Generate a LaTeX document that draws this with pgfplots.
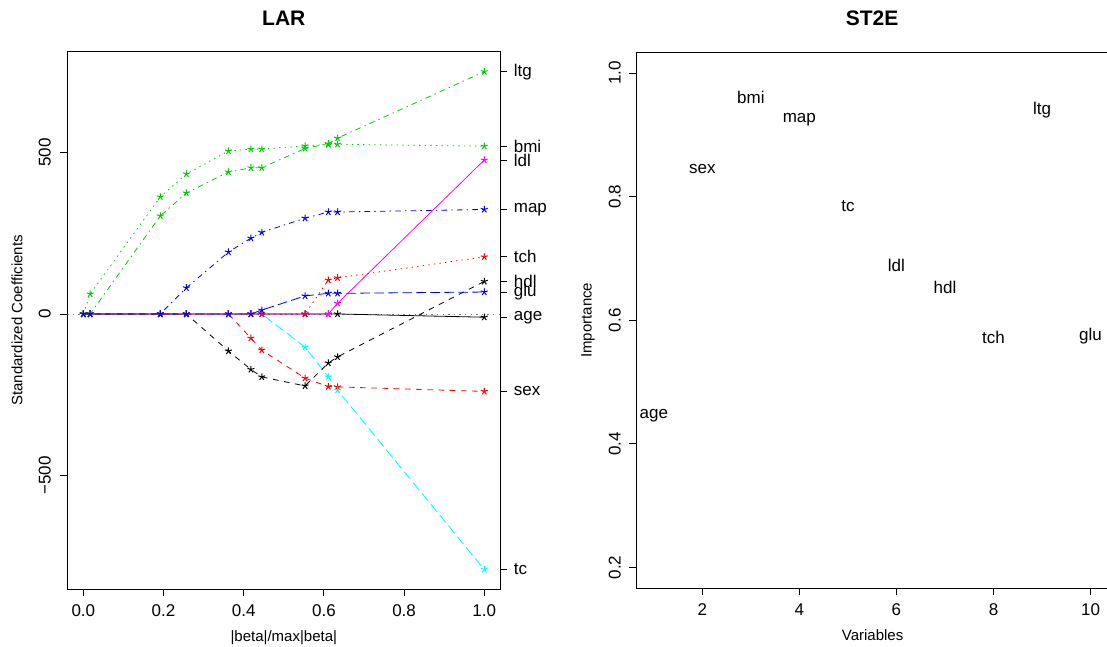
\documentclass[border=0pt]{standalone}
\usepackage{fontspec}
\setmainfont{Liberation Sans}
\usepackage{pgfplots}
\usepackage{pgfplotstable}
\pgfplotsset{compat=1.18}

\definecolor{rgreen}{HTML}{00CD00}
\definecolor{rred}{HTML}{FF0000}
\definecolor{rblue}{HTML}{0000FF}
\definecolor{rcyan}{HTML}{00FFFF}
\definecolor{rmag}{HTML}{FF00FF}

\newcommand\ticksize{\fontsize{17}{17}\selectfont}
\newcommand\labsize{\fontsize{15}{15}\selectfont}

% LAR path: fraction of max |beta| and standardized coefficients per step
\pgfplotstableread{
s     age  sex  bmi  map  tc    ldl  hdl   tch  ltg  glu
0     0    0    0    0    0     0    0     0    0    0
0.017 0    0    62   0    0     0    0     0    0    0
0.192 0    0    363  0    0     0    0     0    304  0
0.257 0    0    434  81   0     0    0     0    375  0
0.362 0    0    505  192  0     0    -115  0    440  0
0.418 0    -75  511  235  0     0    -172  0    453  0
0.445 0    -112 511  253  0     0    -195  0    453  12
0.553 0    -199 521  297  -103  0    -223  0    513  56
0.611 0    -225 525  316  -195  0    -152  105  528  64
0.634 0    -226 526  316  -236  33   -133  112  545  64
1.000 -10  -240 520  324  -792  477  101   177  751  68
}\lars

% ST2E importance
\pgfplotstableread{
x  y     name
1  0.445 age
2  0.844 sex
3  0.961 bmi
4  0.924 map
5  0.784 tc
6  0.689 ldl
7  0.653 hdl
8  0.572 tch
9  0.940 ltg
10 0.574 glu
}\imp

\tikzset{
  rdash/.style={dash pattern=on 5.6pt off 5.6pt},
  rdot/.style={dash pattern=on 1.4pt off 4.2pt},
  rdotdash/.style={dash pattern=on 1.4pt off 4.2pt on 5.6pt off 4.2pt},
  rlong/.style={dash pattern=on 9.8pt off 4.2pt},
}

\pgfplotsset{
  rbox/.style={
    scale only axis,
    axis line style={line width=0.8pt, black},
    tick style={line width=0.8pt, black},
    tick align=outside,
    major tick length=7pt,
    ticklabel style={font=\ticksize},
    xticklabel style={yshift=-4.5pt},
    label style={font=\labsize},
    title style={font=\fontsize{21}{21}\selectfont\bfseries, anchor=center},
    /pgf/number format/assume math mode=true,
  },
  lar/.style={line width=0.8pt, mark=star, mark size=3.6pt,
    mark options={solid, line width=1pt}},
}

\begin{document}
\begin{tikzpicture}
\begin{axis}[rbox,
  at={(67.3pt,56.7pt)}, anchor=south west,
  width=433pt, height=537.6pt,
  xmin=-0.04, xmax=1.04, ymin=-853.4, ymax=813,
  tick pos=left,
  xtick={0,0.2,0.4,0.6,0.8,1},
  xticklabels={0.0,0.2,0.4,0.6,0.8,1.0},
  ytick={-500,0,500},
  yticklabels={−500,0,500},
  yticklabel style={xshift=-6pt, rotate=90, anchor=south},
  title={LAR},
  title style={at={(axis description cs:0.5,1.0515)}},
  xlabel={|beta|/max|beta|},
  xlabel style={at={(axis description cs:0.5,-0.0906)}, anchor=center},
  ylabel={Standardized Coefficients},
  ylabel style={at={(axis description cs:-0.1162,0.5)}, anchor=center},
]
\addplot[gray, line width=0.8pt, rdot] coordinates {(-0.04,0) (1.04,0)};
\addplot[lar, black]         table[x=s, y=age] {\lars};
\addplot[lar, rred, rdash]   table[x=s, y=sex] {\lars};
\addplot[lar, rgreen, rdot]  table[x=s, y=bmi] {\lars};
\addplot[lar, rblue, rdotdash] table[x=s, y=map] {\lars};
\addplot[lar, rcyan, rlong]  table[x=s, y=tc]  {\lars};
\addplot[lar, rmag]          table[x=s, y=ldl] {\lars};
\addplot[lar, black, rdash]  table[x=s, y=hdl] {\lars};
\addplot[lar, rred, rdot]    table[x=s, y=tch] {\lars};
\addplot[lar, rgreen, rdotdash] table[x=s, y=ltg] {\lars};
\addplot[lar, rblue, rlong]  table[x=s, y=glu] {\lars};
\end{axis}

% right-hand axis with variable names at the final coefficients
\begin{axis}[rbox,
  at={(67.3pt,56.7pt)}, anchor=south west,
  width=433pt, height=537.6pt,
  xmin=-0.04, xmax=1.04, ymin=-853.4, ymax=813,
  hide x axis,
  axis y line*=right,
  axis line style={-},
  ytick={751,520,477,324,177,101,68,-10,-240,-792},
  yticklabels={ltg,bmi,ldl,map,tch,hdl,glu,age,sex,tc},
  yticklabel style={anchor=west, xshift=3pt},
]
\end{axis}

\begin{axis}[rbox,
  at={(636.3pt,57.7pt)}, anchor=south west,
  width=471.7pt, height=536pt,
  xmin=0.64, xmax=10.36, ymin=0.1663, ymax=1.0335,
  tick pos=left,
  xtick={2,4,6,8,10},
  ytick={0.2,0.4,0.6,0.8,1.0},
  yticklabels={0.2,0.4,0.6,0.8,1.0},
  yticklabel style={xshift=-5pt, rotate=90, anchor=south},
  title={ST2E},
  title style={at={(axis description cs:0.5,1.0528)}},
  xlabel={Variables},
  xlabel style={at={(axis description cs:0.501,-0.087)}, anchor=center},
  ylabel={Importance},
  ylabel style={at={(axis description cs:-0.1024,0.5)}, anchor=center},
]
\addplot[draw=none, mark=none, nodes near coords, point meta=explicit symbolic,
  nodes near coords style={anchor=center, font=\ticksize, text=black}]
  table[x=x, y=y, meta=name] {\imp};
\end{axis}
\pgfresetboundingbox
\path[use as bounding box] (0,0) rectangle (1107pt,646pt);
\end{tikzpicture}
\end{document}
